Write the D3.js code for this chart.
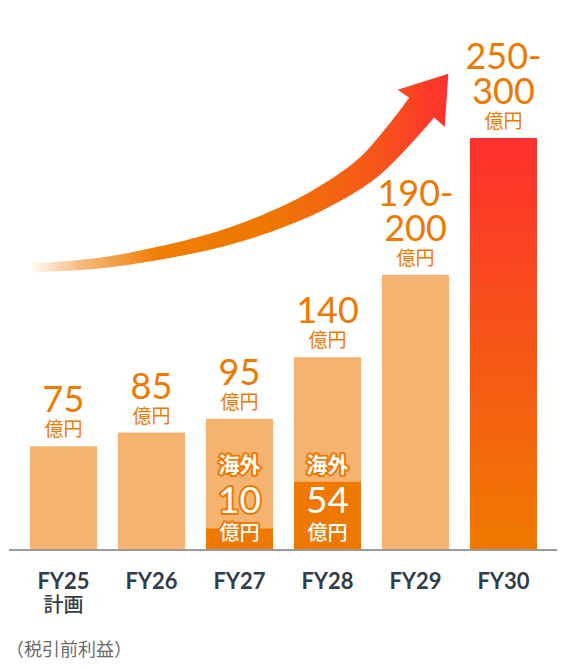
<!DOCTYPE html>
<html>
<head>
<meta charset="utf-8">
<script src="https://cdn.jsdelivr.net/npm/d3@7/dist/d3.min.js"></script>
<style>
  html, body { margin: 0; padding: 0; background: #ffffff; }
  svg { display: block; }
</style>
</head>
<body>
<div id="chart"></div>
<script>
// ---- data ----
const categories = ["FY25", "FY26", "FY27", "FY28", "FY29", "FY30"];
const subLabels = ["計画", "", "", "", "", ""];
const barValues = [75, 85, 95, 140, 200, 300];
const rangeLow = [null, null, null, null, 190, 250];
const overseasLabels = [null, null, 10, 54, null, null];
const overseasBarValues = [null, null, 15, 49, null, null];
const unitLabel = "億円";
const overseasText = "海外";
const footnote = "（税引前利益）";
const arrowCenterline = [[32, 268], [100, 263], [165, 252], [220, 239], [270, 222], [320, 199], [370, 166], [423, 106]];

// ---- layout ----
const W = 582, H = 669;
const baseY = 549;
const ORANGE = "#EE7800";
const LIGHT = "#F4B36E";
const NUMFONT = "Lato, 'Noto Sans', sans-serif";
const CJK = "'Noto Sans CJK JP', 'Noto Sans', sans-serif";

const svg = d3.select("#chart").append("svg").attr("width", W).attr("height", H);
const defs = svg.append("defs");

const x = d3.scaleBand().domain(categories).range([19.5, 547.5]).paddingInner(0.2386).paddingOuter(0.1193);
const y = d3.scaleLinear().domain([0, 300]).range([baseY, 138]);

// gradients
const gBar = defs.append("linearGradient").attr("id", "gBar").attr("x1", 0).attr("y1", 0).attr("x2", 0).attr("y2", 1);
gBar.append("stop").attr("offset", 0).attr("stop-color", "#FF302E");
gBar.append("stop").attr("offset", 1).attr("stop-color", "#EF7A00");

const gArrow = defs.append("linearGradient").attr("id", "gArrow").attr("gradientUnits", "userSpaceOnUse")
  .attr("x1", 30).attr("y1", 0).attr("x2", 452).attr("y2", 0);
[[0, "#F4B36E", 0.05], [0.12, "#F4B36E", 0.9], [0.3, "#EF7D05", 1], [0.55, "#EE7800", 1], [0.8, "#F55A18", 1], [1, "#FF2F2F", 1]]
  .forEach(([o, c, a]) => gArrow.append("stop").attr("offset", o).attr("stop-color", c).attr("stop-opacity", a));

// ---- arrow ----
const tmp = svg.append("path").attr("d", d3.line().curve(d3.curveCatmullRom.alpha(0.5))(arrowCenterline))
  .attr("fill", "none").attr("stroke", "none");
const node = tmp.node();
const L = node.getTotalLength();
const N = 120;
const left = [], right = [];
for (let i = 0; i <= N; i++) {
  const t = i / N;
  const p = node.getPointAtLength(t * L);
  const p2 = node.getPointAtLength(Math.min(L, t * L + 0.5));
  const p1 = node.getPointAtLength(Math.max(0, t * L - 0.5));
  let dx = p2.x - p1.x, dy = p2.y - p1.y;
  const len = Math.hypot(dx, dy) || 1;
  dx /= len; dy /= len;
  const w = 4.5 + 11.5 * Math.pow(t, 1.4);
  left.push([p.x + dy * w, p.y - dx * w]);
  right.push([p.x - dy * w, p.y + dx * w]);
}
tmp.remove();
// head
const endP = node.getPointAtLength(L);
const endP1 = node.getPointAtLength(L - 1);
let ddx = endP.x - endP1.x, ddy = endP.y - endP1.y;
const dl = Math.hypot(ddx, ddy); ddx /= dl; ddy /= dl;
const nx = -ddy, ny = ddx; // normal
const headLen = 41, headHalf = 30;
const tip = [endP.x + ddx * headLen, endP.y + ddy * headLen];
const b1 = [endP.x + nx * headHalf - ddx * 3, endP.y + ny * headHalf - ddy * 3];
const b2 = [endP.x - nx * headHalf - ddx * 3, endP.y - ny * headHalf - ddy * 3];
const shaft = left.concat(right.slice().reverse());
svg.append("path").attr("d", d3.line()(shaft) + "Z").attr("fill", "url(#gArrow)");
const lastL = left[left.length - 1], lastR = right[right.length - 1];
svg.append("path").attr("d", d3.line()([lastL, b1, tip, b2, lastR]) + "Z").attr("fill", "url(#gArrow)");

// ---- bars ----
const rows = categories.map((c, i) => ({
  c, i, v: barValues[i], low: rangeLow[i], sub: subLabels[i],
  ov: overseasLabels[i], ovBar: overseasBarValues[i]
}));

svg.selectAll("rect.bar").data(rows).enter().append("rect")
  .attr("class", "bar")
  .attr("x", d => x(d.c)).attr("width", x.bandwidth())
  .attr("y", d => y(d.v)).attr("height", d => baseY - y(d.v))
  .attr("fill", d => d.i === rows.length - 1 ? "url(#gBar)" : LIGHT);

const ovRows = rows.filter(d => d.ov != null);
svg.selectAll("rect.ov").data(ovRows).enter().append("rect")
  .attr("class", "ov")
  .attr("x", d => x(d.c)).attr("width", x.bandwidth())
  .attr("y", d => y(d.ovBar)).attr("height", d => baseY - y(d.ovBar))
  .attr("fill", ORANGE);

// baseline
svg.append("line").attr("x1", 9).attr("x2", 557).attr("y1", baseY + 1).attr("y2", baseY + 1)
  .attr("stroke", "#9a9a9a").attr("stroke-width", 2);

// ---- value labels ----
rows.forEach(d => {
  const cx = x(d.c) + x.bandwidth() / 2;
  const top = y(d.v);
  const g = svg.append("g").attr("fill", ORANGE).attr("text-anchor", "middle");
  g.append("text").attr("x", cx).attr("y", top - 10)
    .attr("font-family", CJK).attr("font-size", 19).attr("font-weight", 400).text(unitLabel);
  const lines = d.low != null ? [d.low + "-", String(d.v)] : [String(d.v)];
  lines.forEach((t, k) => {
    g.append("text").attr("x", cx).attr("y", top - 34 - (lines.length - 1 - k) * 35)
      .attr("font-family", NUMFONT).attr("font-size", 36).attr("font-weight", 400).text(t);
  });
});

// ---- overseas labels ----
ovRows.forEach(d => {
  const cx = x(d.c) + x.bandwidth() / 2;
  const g = svg.append("g").attr("text-anchor", "middle").attr("fill", "#ffffff")
    .attr("stroke", ORANGE).attr("stroke-width", 4).attr("stroke-linejoin", "round")
    .attr("paint-order", "stroke");
  g.append("text").attr("x", cx).attr("y", 472).attr("font-family", CJK).attr("font-size", 21)
    .attr("font-weight", 700).text(overseasText);
  g.append("text").attr("x", cx).attr("y", 513).attr("font-family", NUMFONT).attr("font-size", 37)
    .attr("font-weight", 400).text(String(d.ov));
  g.append("text").attr("x", cx).attr("y", 540).attr("font-family", CJK).attr("font-size", 20)
    .attr("font-weight", 500).text(unitLabel);
});

// ---- x axis labels ----
const ax = svg.append("g").attr("text-anchor", "middle").attr("fill", "#333c49");
rows.forEach(d => {
  const cx = x(d.c) + x.bandwidth() / 2;
  ax.append("text").attr("x", cx).attr("y", 589).attr("font-family", NUMFONT)
    .attr("font-size", 22).attr("font-weight", 700).text(d.c);
  if (d.sub) {
    ax.append("text").attr("x", cx).attr("y", 612).attr("font-family", CJK)
      .attr("font-size", 20).attr("font-weight", 500).text(d.sub);
  }
});

// footnote
svg.append("text").attr("x", 6).attr("y", 656).attr("font-family", CJK).attr("font-size", 18)
  .attr("fill", "#6b6b6b").text(footnote);
</script>
</body>
</html>
